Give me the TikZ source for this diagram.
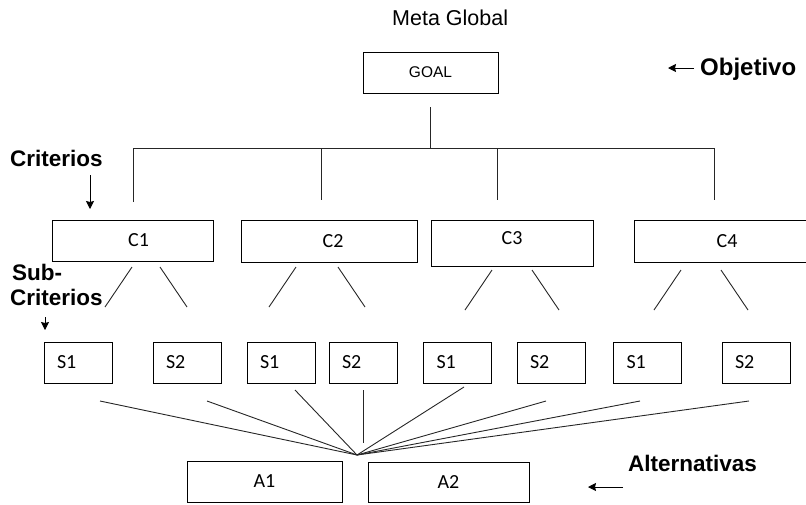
\documentclass[tikz,border=0pt]{standalone}
\usepackage{fontspec}
\setmainfont{Liberation Sans}
\newfontfamily\boxfont{Carlito}
\usetikzlibrary{arrows.meta}
\begin{document}
\begin{tikzpicture}[x=1pt,y=-1pt,
  wire/.style={line width=0.9pt,draw=black!85},
  pointer/.style={line width=0.9pt,-{Stealth[length=8pt,width=8pt,inset=1pt]}},
  tag/.style={font=\fontsize{22.5}{26}\selectfont\bfseries,anchor=west,inner sep=0pt},
  box/.style={draw,line width=0.9pt,inner sep=0pt,font=\boxfont\fontsize{20}{22}\selectfont},
  subbox/.style={box,minimum height=41,text width=42,inner xsep=13,align=left}]
\useasboundingbox (0,0) rectangle (806,504);

% title and goal
\node[font=\fontsize{21.5}{24}\selectfont,anchor=west,inner sep=0pt] (title) at (392,17.5) {Meta Global};
\node[draw,line width=0.9pt,minimum width=135,minimum height=41,inner sep=0pt,
      font=\fontsize{15.5}{18}\selectfont] (goal) at (430.5,72.5) {GOAL};

% criteria
\node[box,minimum width=161,minimum height=41] (c1) at (132.5,240.5) {\hspace{12pt}C1};
\node[box,minimum width=176,minimum height=42] (c2) at (329,241) {\hspace{8pt}C2};
\node[box,minimum width=162,minimum height=46,text depth=9pt] (c3) at (512,243) {C3\hspace{10pt}};
\node[box,minimum width=186,minimum height=42] (c4) at (727,241) {C4};

% sub-criteria
\node[subbox] (s11) at (78,362.5) {S1};
\node[subbox] (s12) at (187,362.5) {S2};
\node[subbox] (s21) at (281,362.5) {S1};
\node[subbox] (s22) at (363,362.5) {S2};
\node[subbox] (s31) at (457.5,362.5) {S1};
\node[subbox] (s32) at (551,362.5) {S2};
\node[subbox] (s41) at (647.5,362.5) {S1};
\node[subbox] (s42) at (756,362.5) {S2};

% alternatives
\node[box,minimum width=155,minimum height=41] (a1) at (264.5,481.5) {A1};
\node[box,minimum width=161,minimum height=40] (a2) at (448.5,482) {A2};

% goal to criteria bus
\coordinate (gtop) at (430,107);
\coordinate (gbus) at (430,148);
\coordinate (bl) at (133,148);
\coordinate (br) at (714,148);
\coordinate (d1) at (133,202);
\coordinate (d2) at (321,200);
\coordinate (d3) at (497,200);
\coordinate (d4) at (714,200);
\draw[wire] (gtop) -- (gbus);
\draw[wire] (d1) -- (bl) -- (br) -- (d4);
\draw[wire] (321,148) -- (d2);
\draw[wire] (497,148) -- (d3);

% criteria to sub-criteria strokes
\foreach \l/\r/\y in {132/160/267, 296/338/267, 492/532/270, 681/721/270}{
  \draw[wire] (\l,\y) -- ++(-27,40);
  \draw[wire] (\r,\y) -- ++(27,40);
}

% sub-criteria converging on the alternatives
\coordinate (hub) at (357,455);
\foreach \p in {(100,401),(207,401),(295,390),(464,387),(546,401),(640,401),(749,401)}{
  \draw[wire] \p -- (hub);
}
\draw[wire] (363,390) -- (363,443);

% level tags
\node[tag,font=\fontsize{24}{28}\selectfont\bfseries] (tobj) at (700,69) {Objetivo};
\draw[pointer] (694,68) -- (668,68);
\node[tag] (tcrit) at (10,158) {Criterios};
\draw[pointer] (90,175) -- (90,209);
\node[tag] (tsub) at (12,272) {Sub-};
\node[tag] (tsubc) at (10,297) {Criterios};
\draw[pointer] (45,317) -- (45,330);
\node[tag] (talt) at (628,463) {Alternativas};
\draw[pointer] (623,487) -- (588,487);
\end{tikzpicture}
\end{document}
